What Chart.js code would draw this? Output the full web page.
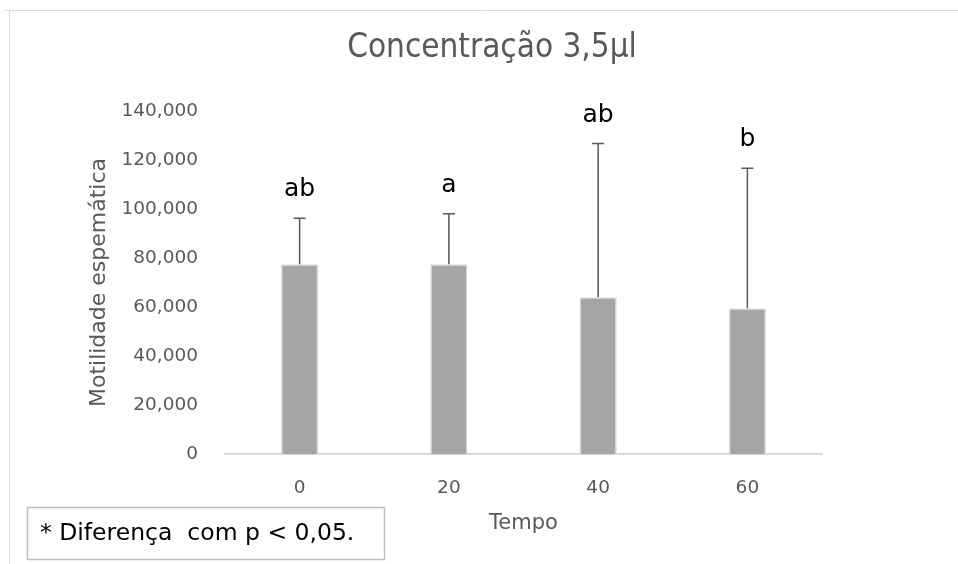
<!DOCTYPE html>
<html>
<head>
<meta charset="utf-8">
<script src="https://cdn.jsdelivr.net/npm/chart.js"></script>
<style>
  html, body { margin: 0; padding: 0; background: #fff; }
  .wrap { width: 958px; height: 564px; position: relative; }
</style>
</head>
<body>
<div class="wrap"><canvas id="chart"></canvas></div>
<script>
  // data
  const categories = ['0', '20', '40', '60'];
  const means = [77400, 77400, 64000, 59500];
  const sds = [18800, 20700, 62700, 57100];
  const letters = ['ab', 'a', 'ab', 'b'];
  const yMin = 0;
  const yMax = 140000;
  const yStep = 20000;

  const chartTitle = 'Concentração 3,5µl';
  const yTitle = 'Motilidade espemática';
  const xTitle = 'Tempo';
  const note = '* Diferença  com p < 0,05.';

  const FONT = '"DejaVu Sans", sans-serif';

  // frame, title, error bars, letters and the note box
  const extras = {
    id: 'extras',
    beforeDraw(chart) {
      const ctx = chart.ctx;
      ctx.save();
      ctx.strokeStyle = '#d9d9d9';
      ctx.lineWidth = 1;
      ctx.beginPath();
      ctx.moveTo(5, 10.5);
      ctx.lineTo(958, 10.5);
      ctx.moveTo(9.5, 10);
      ctx.lineTo(9.5, 564);
      ctx.stroke();

      ctx.fillStyle = '#595959';
      ctx.font = '33px "DejaVu Sans Condensed", "DejaVu Sans", sans-serif';
      ctx.textAlign = 'center';
      ctx.textBaseline = 'middle';
      ctx.fillText(chartTitle, 492, 48);
      ctx.restore();
    },
    afterDatasetsDraw(chart) {
      const ctx = chart.ctx;
      const y = chart.scales.y;
      const meta = chart.getDatasetMeta(0);
      ctx.save();
      ctx.strokeStyle = '#595959';
      ctx.lineWidth = 1.5;
      meta.data.forEach((bar, i) => {
        const yBar = y.getPixelForValue(means[i]);
        const yTop = y.getPixelForValue(means[i] + sds[i]);
        ctx.beginPath();
        ctx.moveTo(bar.x, yBar);
        ctx.lineTo(bar.x, yTop);
        ctx.moveTo(bar.x - 6, yTop);
        ctx.lineTo(bar.x + 6, yTop);
        ctx.stroke();

        ctx.fillStyle = '#000';
        ctx.font = '25px ' + FONT;
        ctx.textAlign = 'center';
        ctx.textBaseline = 'alphabetic';
        ctx.fillText(letters[i], bar.x, yTop - 22);
      });
      ctx.restore();
    },
    afterDraw(chart) {
      const ctx = chart.ctx;
      ctx.save();
      ctx.fillStyle = '#fff';
      ctx.fillRect(27, 507, 357, 52);
      ctx.strokeStyle = '#bfbfbf';
      ctx.lineWidth = 1.5;
      ctx.strokeRect(27.5, 507.5, 357, 52);
      ctx.fillStyle = '#000';
      ctx.font = '23.5px ' + FONT;
      ctx.textAlign = 'left';
      ctx.textBaseline = 'middle';
      ctx.fillText(note, 40, 534);
      ctx.restore();
    }
  };

  new Chart(document.getElementById('chart'), {
    type: 'bar',
    data: {
      labels: categories,
      datasets: [{
        data: means,
        backgroundColor: '#a5a5a5',
        borderColor: '#d9d9d9',
        borderWidth: 1.5,
        barPercentage: 0.25,
        categoryPercentage: 1
      }]
    },
    options: {
      animation: false,
      responsive: true,
      maintainAspectRatio: false,
      devicePixelRatio: 1,
      layout: { padding: { top: 111, right: 136, left: 0, bottom: 0 } },
      plugins: {
        legend: { display: false },
        title: { display: false },
        tooltip: { enabled: false }
      },
      scales: {
        x: {
          grid: { display: false, drawTicks: false },
          border: { display: true, color: '#d9d9d9', width: 2 },
          ticks: { color: '#595959', font: { family: FONT, size: 18.5 }, padding: 23 },
          title: {
            display: true,
            text: xTitle,
            color: '#595959',
            font: { family: FONT, size: 21 },
            padding: { top: 0, bottom: 28 }
          },
          afterFit(scale) { scale.height = 110; }
        },
        y: {
          min: yMin,
          max: yMax,
          grid: { display: false, drawTicks: false },
          border: { display: false },
          ticks: {
            stepSize: yStep,
            color: '#595959',
            font: { family: FONT, size: 18.5 },
            padding: 27,
            callback: (v) => v.toLocaleString('en-US')
          },
          title: {
            display: true,
            text: yTitle,
            color: '#595959',
            font: { family: FONT, size: 22 },
            padding: { top: 86, bottom: 0 }
          },
          afterFit(scale) { scale.width = 225; }
        }
      }
    },
    plugins: [extras]
  });
</script>
</body>
</html>
